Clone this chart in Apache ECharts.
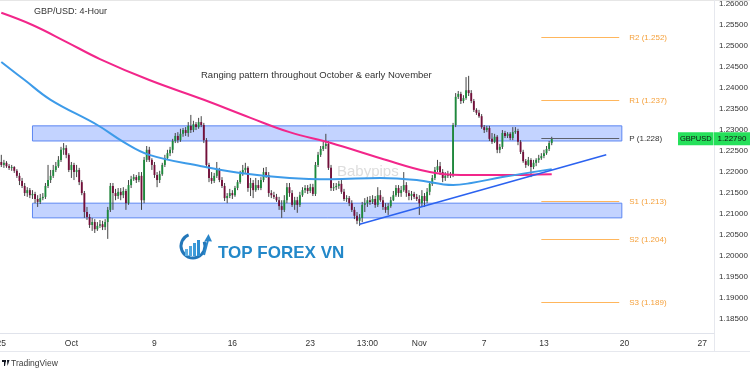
<!DOCTYPE html>
<html><head><meta charset="utf-8">
<script src="https://cdn.jsdelivr.net/npm/echarts@6/dist/echarts.min.js"></script>
<style>html,body{margin:0;padding:0;background:#fff}#c{width:750px;height:375px}</style>
</head><body><div id="c"></div><script>
// 4-hour candles: [open, close, low, high]
const candles = [
[1.2224,1.2217,1.2212,1.2241],[1.2217,1.2222,1.2210,1.2229],[1.2222,1.2214,1.2210,1.2226],[1.2214,1.2210,1.2205,1.2219],[1.2210,1.2212,1.2203,1.2217],
[1.2212,1.2203,1.2198,1.2214],[1.2203,1.2191,1.2186,1.2207],[1.2191,1.2179,1.2169,1.2198],[1.2179,1.2167,1.2162,1.2186],[1.2167,1.2150,1.2143,1.2174],
[1.2150,1.2157,1.2141,1.2164],[1.2157,1.2145,1.2138,1.2162],[1.2145,1.2148,1.2136,1.2157],[1.2148,1.2136,1.2126,1.2153],[1.2136,1.2129,1.2117,1.2145],
[1.2129,1.2138,1.2124,1.2148],[1.2138,1.2141,1.2133,1.2150],[1.2141,1.2167,1.2136,1.2174],[1.2167,1.2181,1.2162,1.2217],[1.2181,1.2191,1.2174,1.2205],
[1.2191,1.2205,1.2186,1.2217],[1.2205,1.2214,1.2200,1.2224],[1.2214,1.2229,1.2210,1.2238],[1.2229,1.2253,1.2224,1.2260],[1.2253,1.2257,1.2241,1.2269],
[1.2257,1.2241,1.2233,1.2264],[1.2241,1.2205,1.2200,1.2245],[1.2205,1.2217,1.2186,1.2224],[1.2217,1.2200,1.2181,1.2222],[1.2200,1.2205,1.2188,1.2217],
[1.2205,1.2176,1.2169,1.2210],[1.2176,1.2150,1.2145,1.2181],[1.2150,1.2105,1.2091,1.2155],[1.2105,1.2093,1.2086,1.2117],[1.2093,1.2074,1.2067,1.2100],
[1.2074,1.2081,1.2060,1.2091],[1.2081,1.2064,1.2055,1.2088],[1.2064,1.2072,1.2060,1.2081],[1.2072,1.2076,1.2067,1.2086],[1.2076,1.2069,1.2062,1.2084],
[1.2069,1.2081,1.2062,1.2088],[1.2081,1.2110,1.2041,1.2117],[1.2110,1.2167,1.2105,1.2174],[1.2167,1.2150,1.2110,1.2174],[1.2150,1.2143,1.2133,1.2160],
[1.2143,1.2153,1.2136,1.2162],[1.2153,1.2145,1.2133,1.2162],[1.2145,1.2155,1.2138,1.2164],[1.2155,1.2126,1.2110,1.2160],[1.2126,1.2169,1.2122,1.2181],
[1.2169,1.2183,1.2162,1.2191],[1.2183,1.2188,1.2179,1.2195],[1.2188,1.2181,1.2174,1.2193],[1.2181,1.2191,1.2176,1.2200],[1.2191,1.2133,1.2110,1.2200],
[1.2133,1.2229,1.2126,1.2236],[1.2229,1.2253,1.2224,1.2262],[1.2253,1.2229,1.2224,1.2260],[1.2229,1.2217,1.2205,1.2233],[1.2217,1.2193,1.2186,1.2224],
[1.2193,1.2181,1.2164,1.2200],[1.2181,1.2195,1.2174,1.2203],[1.2195,1.2217,1.2191,1.2222],[1.2217,1.2233,1.2212,1.2241],[1.2233,1.2245,1.2229,1.2253],
[1.2245,1.2253,1.2238,1.2260],[1.2253,1.2274,1.2245,1.2279],[1.2274,1.2286,1.2269,1.2293],[1.2286,1.2276,1.2269,1.2295],[1.2276,1.2291,1.2272,1.2303],
[1.2291,1.2300,1.2284,1.2305],[1.2300,1.2293,1.2286,1.2307],[1.2293,1.2310,1.2284,1.2319],[1.2310,1.2300,1.2293,1.2336],[1.2300,1.2314,1.2295,1.2322],
[1.2314,1.2307,1.2300,1.2319],[1.2307,1.2319,1.2303,1.2329],[1.2319,1.2312,1.2307,1.2333],[1.2312,1.2276,1.2269,1.2317],[1.2276,1.2217,1.2210,1.2281],
[1.2217,1.2186,1.2176,1.2222],[1.2186,1.2179,1.2172,1.2200],[1.2179,1.2191,1.2174,1.2198],[1.2191,1.2205,1.2186,1.2224],[1.2205,1.2181,1.2176,1.2210],
[1.2181,1.2167,1.2162,1.2188],[1.2167,1.2138,1.2131,1.2174],[1.2138,1.2143,1.2126,1.2150],[1.2143,1.2150,1.2138,1.2160],[1.2150,1.2145,1.2136,1.2157],
[1.2145,1.2162,1.2141,1.2167],[1.2162,1.2176,1.2157,1.2181],[1.2176,1.2195,1.2172,1.2203],[1.2195,1.2205,1.2191,1.2217],[1.2205,1.2210,1.2198,1.2222],
[1.2210,1.2162,1.2153,1.2214],[1.2162,1.2174,1.2143,1.2186],[1.2174,1.2157,1.2138,1.2181],[1.2157,1.2169,1.2153,1.2186],[1.2169,1.2162,1.2157,1.2181],
[1.2162,1.2181,1.2157,1.2188],[1.2181,1.2200,1.2176,1.2210],[1.2200,1.2193,1.2186,1.2212],[1.2193,1.2150,1.2141,1.2200],[1.2150,1.2145,1.2138,1.2157],
[1.2145,1.2141,1.2136,1.2153],[1.2141,1.2133,1.2129,1.2148],[1.2133,1.2119,1.2110,1.2141],[1.2119,1.2110,1.2091,1.2133],[1.2110,1.2133,1.2105,1.2145],
[1.2133,1.2164,1.2126,1.2174],[1.2164,1.2150,1.2141,1.2174],[1.2150,1.2122,1.2117,1.2157],[1.2122,1.2133,1.2110,1.2141],[1.2133,1.2122,1.2103,1.2141],
[1.2122,1.2145,1.2117,1.2153],[1.2145,1.2157,1.2141,1.2164],[1.2157,1.2162,1.2150,1.2169],[1.2162,1.2155,1.2148,1.2169],[1.2155,1.2164,1.2150,1.2172],
[1.2164,1.2148,1.2143,1.2172],[1.2148,1.2217,1.2143,1.2224],[1.2217,1.2241,1.2212,1.2248],[1.2241,1.2255,1.2236,1.2262],[1.2255,1.2262,1.2250,1.2272],
[1.2262,1.2267,1.2255,1.2291],[1.2267,1.2210,1.2205,1.2274],[1.2210,1.2162,1.2155,1.2217],[1.2162,1.2164,1.2155,1.2174],[1.2164,1.2167,1.2157,1.2174],
[1.2167,1.2172,1.2160,1.2179],[1.2172,1.2153,1.2148,1.2181],[1.2153,1.2136,1.2131,1.2160],[1.2136,1.2138,1.2129,1.2145],[1.2138,1.2126,1.2119,1.2143],
[1.2126,1.2110,1.2105,1.2133],[1.2110,1.2096,1.2088,1.2117],[1.2096,1.2084,1.2076,1.2105],[1.2084,1.2091,1.2072,1.2100],[1.2091,1.2122,1.2081,1.2129],
[1.2122,1.2126,1.2105,1.2138],[1.2126,1.2133,1.2117,1.2141],[1.2133,1.2129,1.2122,1.2143],[1.2129,1.2136,1.2124,1.2145],[1.2136,1.2122,1.2115,1.2143],
[1.2122,1.2145,1.2117,1.2164],[1.2145,1.2133,1.2129,1.2157],[1.2133,1.2117,1.2110,1.2141],[1.2117,1.2110,1.2103,1.2126],[1.2110,1.2119,1.2098,1.2126],
[1.2119,1.2133,1.2115,1.2141],[1.2133,1.2145,1.2131,1.2155],[1.2145,1.2162,1.2141,1.2169],[1.2162,1.2150,1.2141,1.2169],[1.2150,1.2157,1.2141,1.2167],
[1.2157,1.2169,1.2153,1.2200],[1.2169,1.2150,1.2141,1.2176],[1.2150,1.2143,1.2133,1.2157],[1.2143,1.2148,1.2133,1.2155],[1.2148,1.2141,1.2136,1.2153],
[1.2141,1.2136,1.2131,1.2148],[1.2136,1.2126,1.2098,1.2145],[1.2126,1.2143,1.2117,1.2157],[1.2143,1.2131,1.2117,1.2150],[1.2131,1.2153,1.2126,1.2162],
[1.2153,1.2172,1.2145,1.2176],[1.2172,1.2186,1.2167,1.2193],[1.2186,1.2205,1.2181,1.2212],[1.2205,1.2214,1.2200,1.2229],[1.2214,1.2200,1.2193,1.2224],
[1.2200,1.2186,1.2176,1.2207],[1.2186,1.2191,1.2179,1.2200],[1.2191,1.2195,1.2186,1.2203],[1.2195,1.2193,1.2186,1.2200],[1.2193,1.2312,1.2188,1.2317],
[1.2312,1.2379,1.2307,1.2388],[1.2379,1.2386,1.2374,1.2393],[1.2386,1.2369,1.2362,1.2391],[1.2369,1.2376,1.2364,1.2383],[1.2376,1.2395,1.2372,1.2426],
[1.2395,1.2388,1.2381,1.2429],[1.2388,1.2369,1.2364,1.2395],[1.2369,1.2348,1.2343,1.2374],[1.2348,1.2341,1.2336,1.2352],[1.2341,1.2333,1.2329,1.2348],
[1.2333,1.2307,1.2303,1.2338],[1.2307,1.2300,1.2293,1.2312],[1.2300,1.2305,1.2295,1.2310],[1.2305,1.2279,1.2274,1.2310],[1.2279,1.2272,1.2267,1.2293],
[1.2272,1.2284,1.2269,1.2291],[1.2284,1.2253,1.2245,1.2288],[1.2253,1.2260,1.2245,1.2267],[1.2260,1.2293,1.2255,1.2300],[1.2293,1.2286,1.2281,1.2298],
[1.2286,1.2291,1.2281,1.2295],[1.2291,1.2281,1.2276,1.2295],[1.2281,1.2295,1.2276,1.2307],[1.2295,1.2298,1.2291,1.2307],[1.2298,1.2272,1.2264,1.2303],
[1.2272,1.2248,1.2243,1.2276],[1.2248,1.2226,1.2222,1.2253],[1.2226,1.2217,1.2210,1.2231],[1.2217,1.2229,1.2214,1.2236],[1.2229,1.2212,1.2188,1.2233],
[1.2212,1.2222,1.2207,1.2229],[1.2222,1.2229,1.2214,1.2233],[1.2229,1.2233,1.2222,1.2241],[1.2233,1.2238,1.2229,1.2245],[1.2238,1.2245,1.2233,1.2253],
[1.2245,1.2255,1.2241,1.2262],[1.2255,1.2269,1.2250,1.2274],[1.2269,1.2279,1.2264,1.2284]
];
// moving averages, read at knots (bar index, price)
const maPinkIdx = [0, 12, 25, 38, 57, 78, 96, 111, 127, 146, 165, 177, 192, 212];
const maPinkVal = [1.2579, 1.2550, 1.2510, 1.2469, 1.2419, 1.2372, 1.2329, 1.2295, 1.2269, 1.2233, 1.2200, 1.2193, 1.2193, 1.2195];
const maBlueIdx = [0, 9, 19, 37, 47, 57, 77, 92, 111, 127, 146, 160, 174, 181, 193, 212];
const maBlueVal = [1.2462, 1.2419, 1.2372, 1.2312, 1.2272, 1.2241, 1.2214, 1.2198, 1.2186, 1.2183, 1.2186, 1.2181, 1.2169, 1.2174, 1.2188, 1.2207];
// trend line
const trendIdx = [138, 233];
const trendVal = [1.2076, 1.2241];
// pivot levels
const pivotNames = ['R2', 'R1', 'P', 'S1', 'S2', 'S3'];
const pivotVals = [1.252, 1.237, 1.228, 1.213, 1.204, 1.189];
const pivotStart = 208, pivotEnd = 238;
// range zones
const zoneTops = [1.2310, 1.2126];
const zoneBottoms = [1.2274, 1.2091];
const zoneStart = 12, zoneEnd = 239;
// axes
const nBars = 275;
const xLabelIdx = [0, 27, 59, 89, 119, 141, 161, 186, 209, 240, 270];
const xLabelText = ['25', 'Oct', '9', '16', '23', '13:00', 'Nov', '7', '13', '20', '27'];
const yTicks = [1.185, 1.19, 1.195, 1.2, 1.205, 1.21, 1.215, 1.22, 1.225, 1.23, 1.235, 1.24, 1.245, 1.25, 1.255, 1.26];
const lastPrice = 1.2279;
const symbolName = 'GBPUSD';

const UP = '#1e8a3c', DOWN = '#730f3a', WICK = '#444';
const FONT = 'Liberation Sans, Arial, sans-serif';
const cats = Array.from({length: nBars}, (_, i) => String(i));
const labelMap = {};
xLabelIdx.forEach((k, j) => labelMap[k] = xLabelText[j]);

const chart = echarts.init(document.getElementById('c'), null, {renderer: 'canvas'});

function renderCandle(params, api) {
  const i = api.value(0), o = api.value(1), c = api.value(2), l = api.value(3), h = api.value(4);
  const po = api.coord([i, o]), pc = api.coord([i, c]), pl = api.coord([i, l]), ph = api.coord([i, h]);
  const w = api.size([1, 0])[0] * 0.72;
  const top = Math.min(po[1], pc[1]);
  const hgt = Math.max(1, Math.abs(po[1] - pc[1]));
  return {
    type: 'group',
    children: [
      {type: 'line', shape: {x1: ph[0], y1: ph[1], x2: pl[0], y2: pl[1]}, style: {stroke: WICK, lineWidth: 1}},
      {type: 'rect', shape: {x: po[0] - w / 2, y: top, width: w, height: hgt}, style: {fill: c >= o ? UP : DOWN}}
    ]
  };
}

const pivotLines = pivotNames.map((n, k) => {
  const isP = n === 'P';
  const col = isP ? '#5d606b' : '#ffb65c';
  return [
    {coord: [pivotStart, pivotVals[k]], lineStyle: {color: col, width: 1, type: 'solid'},
     label: {show: true, position: 'end', distance: 10, formatter: n + ' (' + pivotVals[k].toFixed(3) + ')',
             color: isP ? '#333' : '#f5a13c', fontSize: 8, fontFamily: FONT}},
    {coord: [pivotEnd, pivotVals[k]]}
  ];
});

const zoneAreas = zoneTops.map((t, k) => [
  {coord: [zoneStart, t]}, {coord: [zoneEnd, zoneBottoms[k]]}
]);

const option = {
  animation: false,
  backgroundColor: '#fff',
  textStyle: {fontFamily: FONT},
  title: {text: 'GBP/USD: 4-Hour', left: 34, top: 7, padding: 0,
          textStyle: {fontSize: 9, fontWeight: 'normal', color: '#333', fontFamily: FONT}},
  grid: {left: 0, right: 36, top: 0, bottom: 42, outerBoundsMode: 'none', containLabel: false},
  xAxis: {
    type: 'category', data: cats, boundaryGap: true,
    axisLine: {show: true, lineStyle: {color: '#e0e3eb'}},
    axisTick: {show: false}, splitLine: {show: false},
    axisLabel: {interval: (idx) => labelMap[idx] !== undefined, formatter: (v, idx) => labelMap[idx] || '',
                color: '#333', fontSize: 8.5, margin: 6, fontFamily: FONT}
  },
  yAxis: {
    type: 'value', position: 'right', min: 1.1817, max: 1.26095, scale: true,
    axisLine: {show: false}, axisTick: {show: false}, splitLine: {show: false},
    axisLabel: {customValues: yTicks, formatter: (v) => v.toFixed(5), color: '#333', fontSize: 8, margin: 5, fontFamily: FONT}
  },
  series: [
    {
      name: 'zones', type: 'line', data: [], z: 1, silent: true,
      markArea: {silent: true, itemStyle: {color: 'rgba(41,98,255,0.28)', borderColor: '#5b86f2', borderWidth: 1},
                 data: zoneAreas}
    },
    {
      name: 'GBPUSD', type: 'custom', renderItem: renderCandle, z: 3, clip: true,
      encode: {x: 0, y: [1, 2, 3, 4]},
      data: candles.map((d, i) => [i, d[0], d[1], d[2], d[3]])
    },
    {
      name: 'MA slow', type: 'line', z: 4, showSymbol: false, smooth: 0.4, silent: true,
      lineStyle: {color: '#f2268a', width: 2},
      data: maPinkIdx.map((k, j) => [k, maPinkVal[j]])
    },
    {
      name: 'MA fast', type: 'line', z: 4, showSymbol: false, smooth: 0.4, silent: true,
      lineStyle: {color: '#3d9be9', width: 2},
      data: maBlueIdx.map((k, j) => [k, maBlueVal[j]])
    },
    {
      name: 'trend', type: 'line', z: 5, showSymbol: false, silent: true,
      lineStyle: {color: '#2b62f0', width: 1.6},
      data: trendIdx.map((k, j) => [k, trendVal[j]]),
      markLine: {silent: true, symbol: ['none', 'none'], data: pivotLines}
    }
  ]
};
chart.setOption(option);

const yLast = chart.convertToPixel({yAxisIndex: 0}, lastPrice);
const GREEN = '#25e05a';
chart.setOption({
  graphic: [
    {type: 'line', shape: {x1: 0, y1: 0.5, x2: 750, y2: 0.5}, style: {stroke: '#e6e6e6', lineWidth: 1}, silent: true},
    {type: 'line', shape: {x1: 714.5, y1: 0, x2: 714.5, y2: 351}, style: {stroke: '#e6e8ee', lineWidth: 1}, silent: true},
    {type: 'line', shape: {x1: 0, y1: 351.5, x2: 750, y2: 351.5}, style: {stroke: '#e6e8ee', lineWidth: 1}, silent: true},
    {type: 'text', x: 201, y: 75, z: 10, style: {text: 'Ranging pattern throughout October & early November', fontSize: 9.5, fill: '#333', font: '9.5px ' + FONT, textVerticalAlign: 'middle'}},
    {type: 'text', x: 337, y: 172, z: 0, style: {text: 'Babypips', fill: '#dddddd', font: '15px ' + FONT, textVerticalAlign: 'middle'}},
    // logo
    {type: 'arc', z: 10, shape: {cx: 193, cy: 246, r: 12, startAngle: -Math.PI * 0.12, endAngle: -Math.PI * 0.62, clockwise: true},
     style: {stroke: '#2377b9', lineWidth: 3, fill: 'none'}},
    {type: 'rect', z: 10, shape: {x: 185, y: 249, width: 3, height: 7}, style: {fill: '#5fb0e3'}},
    {type: 'rect', z: 10, shape: {x: 189, y: 246, width: 3, height: 10}, style: {fill: '#4ea6df'}},
    {type: 'rect', z: 10, shape: {x: 193, y: 243, width: 3, height: 13}, style: {fill: '#3d9bd9'}},
    {type: 'rect', z: 10, shape: {x: 197, y: 240, width: 3, height: 16}, style: {fill: '#2f8fd2'}},
    {type: 'line', z: 10, shape: {x1: 204, y1: 255, x2: 208, y2: 240}, style: {stroke: '#2a86c9', lineWidth: 2}},
    {type: 'polygon', z: 10, shape: {points: [[208.5, 234], [204.5, 241], [212, 241.5]]}, style: {fill: '#2a86c9'}},
    {type: 'text', x: 218, y: 253, z: 10, style: {text: 'TOP FOREX VN', fill: '#2388c9', font: 'bold 17px ' + FONT, textVerticalAlign: 'middle'}},
    // TradingView mark
    {type: 'rect', z: 10, shape: {x: 2, y: 360, width: 4, height: 2}, style: {fill: '#131722'}},
    {type: 'polygon', z: 10, shape: {points: [[4, 360], [6, 360], [5, 366], [4, 366]]}, style: {fill: '#131722'}},
    {type: 'polygon', z: 10, shape: {points: [[7, 360], [9.5, 360], [7.5, 366]]}, style: {fill: '#131722'}},
    {type: 'text', x: 11, y: 363.5, z: 10, style: {text: 'TradingView', fill: '#3c3c3c', font: '8.5px ' + FONT, textVerticalAlign: 'middle'}},
    // last price labels
    {type: 'rect', z: 20, shape: {x: 678, y: yLast - 6.5, width: 35.5, height: 13}, style: {fill: GREEN}},
    {type: 'text', x: 695.8, y: yLast, z: 21, style: {text: symbolName, fill: '#111', font: '7.5px ' + FONT, textAlign: 'center', textVerticalAlign: 'middle'}},
    {type: 'rect', z: 20, shape: {x: 714, y: yLast - 6.5, width: 36, height: 13}, style: {fill: GREEN}},
    {type: 'text', x: 732, y: yLast, z: 21, style: {text: lastPrice.toFixed(5), fill: '#111', font: '8px ' + FONT, textAlign: 'center', textVerticalAlign: 'middle'}}
  ]
});
</script></body></html>
